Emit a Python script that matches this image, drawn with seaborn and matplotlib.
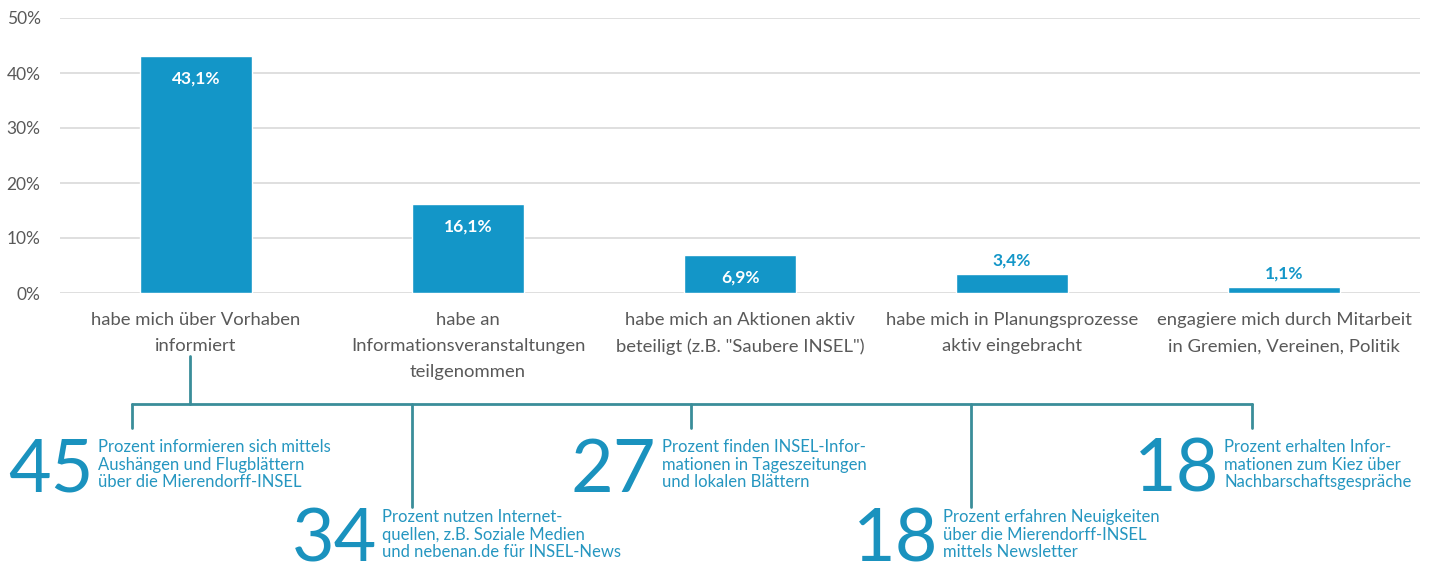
import numpy as np
import pandas as pd
import seaborn as sns
import matplotlib.pyplot as plt
from matplotlib.lines import Line2D

# Chart data
categories = [
    "habe mich über Vorhaben\ninformiert",
    "habe an\nInformationsveranstaltungen\nteilgenommen",
    "habe mich an Aktionen aktiv\nbeteiligt (z.B. \"Saubere INSEL\")",
    "habe mich in Planungsprozesse\naktiv eingebracht",
    "engagiere mich durch Mitarbeit\nin Gremien, Vereinen, Politik",
]
shares = [43.1, 16.1, 6.9, 3.4, 1.1]
y_ticks = [0, 10, 20, 30, 40, 50]

# Info boxes below the chart
info_numbers = ["45", "34", "27", "18", "18"]
info_texts = [
    "Prozent informieren sich mittels\nAushängen und Flugblättern\nüber die Mierendorff-INSEL",
    "Prozent nutzen Internet-\nquellen, z.B. Soziale Medien\nund nebenan.de für INSEL-News",
    "Prozent finden INSEL-Infor-\nmationen in Tageszeitungen\nund lokalen Blättern",
    "Prozent erfahren Neuigkeiten\nüber die Mierendorff-INSEL\nmittels Newsletter",
    "Prozent erhalten Infor-\nmationen zum Kiez über\nNachbarschaftsgespräche",
]

BAR = "#1396c8"
LINE = "#3a8d99"
NUM = "#1a92be"
TXT = "#2596c0"
GREY = "#595959"
W, H = 1435, 573

sns.set_theme(style="white")
plt.rcParams["font.family"] = ["Lato", "DejaVu Sans"]

df = pd.DataFrame({"cat": categories, "share": shares})

fig = plt.figure(figsize=(W / 100, H / 100), dpi=100)
ax = fig.add_axes([60 / W, 1 - 293 / H, 1360 / W, 275 / H])

sns.barplot(data=df, x="cat", y="share", color=BAR, saturation=1, width=0.41, ax=ax)

ax.set_ylim(0, 50)
ax.set_yticks(y_ticks)
ax.set_yticklabels([f"{t}%" for t in y_ticks], color=GREY, fontsize=12.5)
ax.yaxis.grid(True, color="#d9d9d9", linewidth=1.2)
ax.set_axisbelow(True)
ax.tick_params(axis="y", length=0, pad=14)
ax.tick_params(axis="x", length=0, pad=14)
ax.set_xticks(range(len(categories)))
ax.set_xticklabels(categories, color=GREY, fontsize=13.3, linespacing=1.75)
ax.set_xlabel("")
ax.set_ylabel("")
for s in ax.spines.values():
    s.set_visible(False)

# value labels
for i, v in enumerate(shares):
    txt = f"{v:.1f}%".replace(".", ",")
    if v > 5:
        ax.annotate(txt, (i, v), xytext=(0, -16), textcoords="offset points",
                    ha="center", va="center", color="white",
                    fontsize=12.5, fontweight="bold")
    else:
        ax.annotate(txt, (i, v), xytext=(0, 10), textcoords="offset points",
                    ha="center", va="center", color=BAR,
                    fontsize=12.5, fontweight="bold")


def fx(px):
    return px / W


def fy(py):
    return 1 - py / H


def seg(x0, y0, x1, y1):
    fig.add_artist(Line2D([fx(x0), fx(x1)], [fy(y0), fy(y1)], color=LINE,
                          linewidth=2, transform=fig.transFigure))


# connector tree
seg(190, 356, 190, 404)
seg(132, 404, 1252, 404)
drops = [(132, 428), (412, 507), (691, 428), (971, 507), (1252, 428)]
for x, y_end in drops:
    seg(x, 404, x, y_end)

# info blocks: (number left x, baseline y of number)
blocks = [(8, 492), (292, 562), (571, 492), (853, 562), (1134, 492)]
for (x, y), num, text in zip(blocks, info_numbers, info_texts):
    t = fig.text(fx(x), fy(y), num, ha="left", va="baseline", color=NUM,
                 fontsize=53)
    fig.canvas.draw()
    bb = t.get_window_extent()
    fig.text(bb.x1 / W + 5 / W, fy(y - 53), text, ha="left", va="top",
             color=TXT, fontsize=12, linespacing=1.12)

fig.savefig("out.png", dpi=100)
